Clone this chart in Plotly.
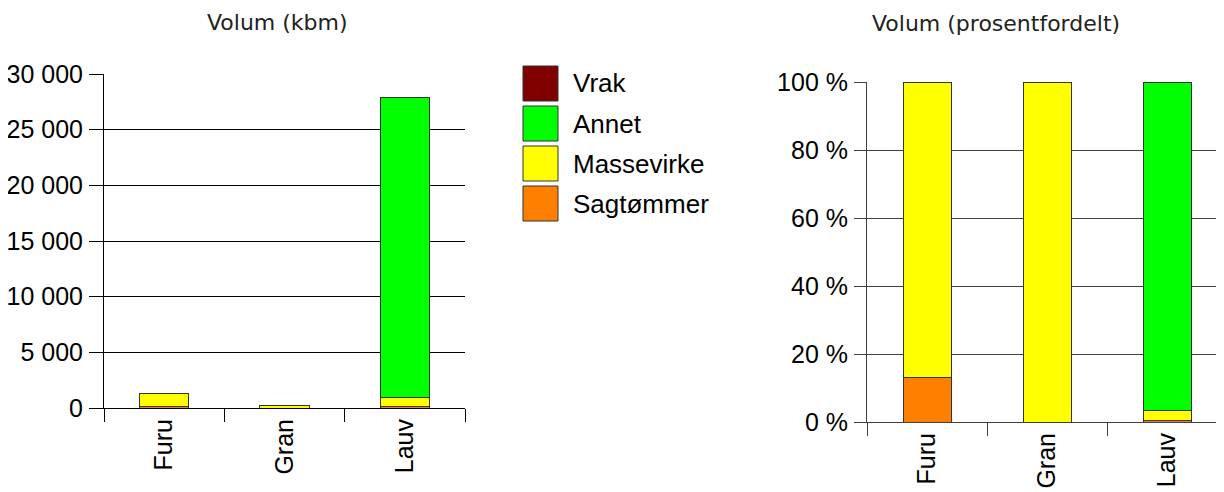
import plotly.graph_objects as go

categories = ["Furu", "Gran", "Lauv"]
series_names = ["Sagtømmer", "Massevirke", "Annet", "Vrak"]
sagtommer = [175, 0, 120]
massevirke = [1170, 240, 850]
annet = [0, 0, 26950]
vrak = [0, 0, 0]
colors = ["#FF8000", "#FFFF00", "#00FF00", "#800000"]
y1_ticks = [0, 5000, 10000, 15000, 20000, 25000, 30000]
y1_labels = ["0", "5 000", "10 000", "15 000", "20 000", "25 000", "30 000"]
y2_ticks = [0, 20, 40, 60, 80, 100]
y2_labels = ["0 %", "20 %", "40 %", "60 %", "80 %", "100 %"]

series = [sagtommer, massevirke, annet, vrak]
totals = [sum(s[i] for s in series) for i in range(len(categories))]

# the page body has an 8px margin; size the figure so it fills the 1224x492 window
OFF = 8
W, H = 1224 - OFF, 492 - OFF


def px(x):
    return (x - OFF) / W


def py(y):
    return 1 - (y - OFF) / H


fig = go.Figure()
line_col = "#333333"


def nz(v):
    return [x if x else None for x in v]


for name, vals, col in zip(series_names, series, colors):
    fig.add_trace(go.Bar(x=categories, y=nz(vals), name=name,
                         marker=dict(color=col, line=dict(color=line_col, width=1)),
                         width=0.41, xaxis="x", yaxis="y", showlegend=False))
    pct = [100 * v / t if t else 0 for v, t in zip(vals, totals)]
    fig.add_trace(go.Bar(x=categories, y=nz(pct), name=name,
                         marker=dict(color=col, line=dict(color=line_col, width=1)),
                         width=0.40, xaxis="x2", yaxis="y2", showlegend=False))

font_main = "Liberation Sans, Arial, sans-serif"
axis_common = dict(tickfont=dict(family=font_main, size=25, color="black"), automargin=False)

fig.update_layout(
    template="none",
    width=W, height=H, margin=dict(l=0, r=0, t=0, b=0, pad=0, autoexpand=False),
    paper_bgcolor="white", plot_bgcolor="white", barmode="stack",
    xaxis=dict(domain=[px(104), px(465)], anchor="y", type="category", range=[-0.5, 2.5],
               tickson="boundaries", ticks="outside", ticklen=13, tickcolor="black", tickangle=-90,
               showline=True, linecolor="black", linewidth=1, showgrid=False, zeroline=False, **axis_common),
    yaxis=dict(domain=[py(408), py(74)], anchor="x", range=[0, 30000],
               tickvals=y1_ticks, ticktext=y1_labels, ticks="outside", ticklen=14, tickcolor="black",
               showline=True, linecolor="black", linewidth=1, showgrid=True, gridcolor="black", gridwidth=1,
               zeroline=False, ticklabelstandoff=1, **axis_common),
    xaxis2=dict(domain=[px(867), 1.0], anchor="y2", type="category", range=[-0.5, 2.475],
                tickson="boundaries", ticks="outside", ticklen=13, tickcolor="#404040", tickangle=-90,
                showline=True, linecolor="#404040", linewidth=1, showgrid=False, zeroline=False, **axis_common),
    yaxis2=dict(domain=[py(422), py(82)], anchor="x2", range=[0, 100],
                tickvals=y2_ticks, ticktext=y2_labels, ticks="outside", ticklen=12, tickcolor="#404040",
                showline=True, linecolor="#404040", linewidth=1, showgrid=True, gridcolor="#404040", gridwidth=1,
                zeroline=False, ticklabelstandoff=1, **axis_common),
    showlegend=False,
)

title_font = dict(family="DejaVu Sans, Verdana, sans-serif", size=22, color="#222222")
fig.add_annotation(text="Volum (kbm)", x=px(277), y=py(23), xref="paper", yref="paper",
                   showarrow=False, font=title_font, xanchor="center", yanchor="middle")
fig.add_annotation(text="Volum (prosentfordelt)", x=px(996), y=py(9), xref="paper", yref="paper",
                   showarrow=False, font=title_font, xanchor="center", yanchor="top")

# legend (top to bottom: reverse stack order)
for k, (name, col) in enumerate(zip(series_names[::-1], colors[::-1])):
    top = 66 + 40 * k
    fig.add_shape(type="rect", xref="paper", yref="paper", x0=px(523), x1=px(558),
                  y0=py(top + 35), y1=py(top), fillcolor=col, line=dict(color=line_col, width=1))
    fig.add_annotation(text=name, x=px(571), y=py(top + 17.5), xref="paper", yref="paper",
                       showarrow=False, xanchor="left", yanchor="middle",
                       font=dict(family=font_main, size=26, color="black"))

fig.write_html("out.html")
